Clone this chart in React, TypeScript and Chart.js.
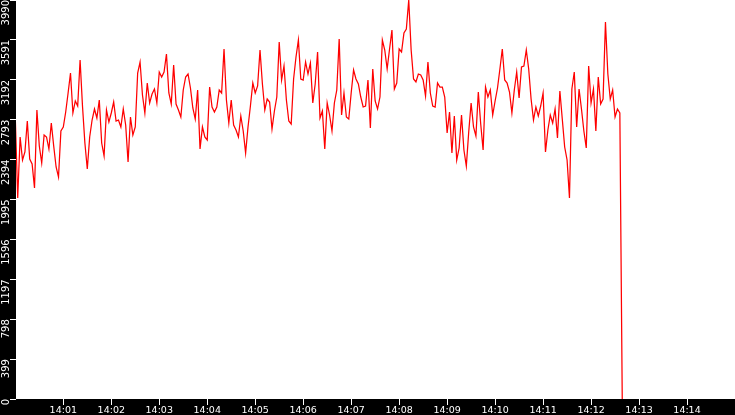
import { useEffect, useRef } from 'react';
import { Chart, registerables } from 'chart.js';

Chart.register(...registerables);

// one reading every 3 seconds, starting 14:00:00
const sampleSeconds = 3;

const minute00 = [2800, 2010, 2620, 2390, 2470, 2780, 2400, 2350, 2110, 2890, 2530, 2360, 2640, 2620, 2500, 2760, 2530, 2320, 2220, 2680];
const minute01 = [2720, 2870, 3060, 3260, 2860, 2980, 2930, 3390, 2930, 2560, 2300, 2620, 2790, 2900, 2810, 2990, 2560, 2430, 2890, 2770];
const minute02 = [2860, 2970, 2780, 2790, 2720, 2900, 2740, 2370, 2820, 2640, 2720, 3260, 3370, 3040, 2860, 3160, 2960, 3050, 3100, 2960];
const minute03 = [3270, 3220, 3270, 3450, 3060, 2950, 3340, 2950, 2890, 2820, 3090, 3220, 3250, 3110, 2910, 2800, 3090, 2500, 2720, 2620];
const minute04 = [2590, 3120, 2920, 2870, 2920, 3090, 3060, 3500, 2990, 2760, 2990, 2740, 2690, 2620, 2830, 2680, 2460, 2720, 2930, 3160];
const minute05 = [3060, 3130, 3490, 3150, 2890, 3000, 2970, 2700, 2880, 3020, 3570, 3190, 3330, 2990, 2780, 2750, 3200, 3420, 3590, 3200];
const minute06 = [3190, 3370, 3250, 3360, 2960, 3150, 3470, 2810, 2880, 2500, 2960, 2840, 2680, 2960, 3090, 3600, 2840, 3060, 2820, 2800];
const minute07 = [3060, 3290, 3200, 3150, 3020, 2920, 2930, 3190, 2710, 3300, 2980, 2900, 3020, 3590, 3490, 3300, 3500, 3690, 3100, 3160];
const minute08 = [3500, 3470, 3660, 3700, 3990, 3490, 3200, 3170, 3250, 3240, 3190, 3030, 3370, 3060, 2930, 2920, 3160, 3120, 3120, 3020];
const minute09 = [2660, 2870, 2460, 2830, 2390, 2510, 2840, 2490, 2330, 2670, 2960, 2720, 2630, 3070, 2750, 2490, 3120, 3020, 3090, 2840];
const minute10 = [2980, 3110, 3300, 3500, 3190, 3160, 3070, 2860, 3090, 3270, 3010, 3320, 3330, 3490, 3300, 3000, 2790, 2920, 2830, 2930];
const minute11 = [3060, 2470, 2690, 2840, 2760, 2900, 2610, 3080, 2800, 2520, 2390, 2010, 3100, 3270, 2720, 3100, 2900, 2680, 2510, 3330];
const minute12 = [2960, 3100, 2680, 3220, 2950, 3000, 3770, 3250, 3000, 3090, 2820, 2900, 2860, 0];

const minutes = [minute00, minute01, minute02, minute03, minute04, minute05, minute06, minute07, minute08, minute09, minute10, minute11, minute12];

const xTickLabels = ['14:01', '14:02', '14:03', '14:04', '14:05', '14:06', '14:07', '14:08', '14:09', '14:10', '14:11', '14:12', '14:13', '14:14'];
const yTickValues = [0, 399, 798, 1197, 1596, 1995, 2394, 2793, 3192, 3591, 3990];

const labelFont = 'DejaVu Sans';

const panelBackground = {
  id: 'panelBackground',
  beforeDraw(chart: Chart) {
    const { ctx, chartArea, width, height } = chart;
    ctx.save();
    ctx.fillStyle = '#000000';
    ctx.fillRect(0, 0, width, height);
    ctx.fillStyle = '#ffffff';
    ctx.fillRect(chartArea.left, chartArea.top, chartArea.right - chartArea.left, chartArea.bottom - chartArea.top);
    ctx.restore();
  }
};

function RateChart() {
  const canvasRef = useRef<HTMLCanvasElement>(null);

  useEffect(() => {
    document.body.style.margin = '0';
    const canvas = canvasRef.current;
    if (!canvas) return;

    const points: { x: number; y: number }[] = [];
    minutes.forEach((values, m) => {
      values.forEach((v, k) => points.push({ x: m * 60 + k * sampleSeconds, y: v }));
    });

    const chart = new Chart(canvas, {
      type: 'line',
      data: {
        datasets: [{
          data: points,
          borderColor: '#ff0000',
          borderWidth: 1.25,
          pointRadius: 0,
          tension: 0,
          fill: false
        }]
      },
      options: {
        animation: false,
        responsive: true,
        maintainAspectRatio: false,
        events: [],
        layout: { padding: 0 },
        plugins: {
          legend: { display: false },
          tooltip: { enabled: false }
        },
        scales: {
          x: {
            type: 'linear',
            min: 0.85,
            max: 900,
            afterBuildTicks: (scale: any) => {
              scale.ticks = xTickLabels.map((_, i) => ({ value: (i + 1) * 60 }));
            },
            afterFit: (scale: any) => {
              scale.height = 16;
              scale.paddingLeft = 0;
              scale.paddingRight = 0;
            },
            ticks: {
              autoSkip: false,
              minRotation: 0,
              maxRotation: 0,
              padding: 0,
              color: '#ffffff',
              font: { family: labelFont, size: 9.5 },
              callback: (_v: any, i: number) => xTickLabels[i]
            },
            grid: { drawOnChartArea: false, drawTicks: true, tickLength: 6, color: '#ffffff' },
            border: { display: false }
          },
          y: {
            type: 'linear',
            min: 0,
            max: 3990,
            afterBuildTicks: (scale: any) => {
              scale.ticks = yTickValues.map((v) => ({ value: v }));
            },
            afterFit: (scale: any) => {
              scale.width = 16;
              scale.paddingTop = 0;
              scale.paddingBottom = 0;
            },
            ticks: {
              minRotation: 90,
              maxRotation: 90,
              padding: 4,
              color: '#ffffff',
              font: { family: labelFont, size: 10 },
              callback: (v: any) => String(v),
              labelOffset: (ctx: any) => (ctx.tick && ctx.tick.value === 0 ? -5 : 0)
            },
            grid: { drawOnChartArea: false, drawTicks: true, tickLength: 6, color: '#ffffff' },
            border: { display: false }
          }
        }
      },
      plugins: [panelBackground]
    });

    return () => {
      chart.destroy();
    };
  }, []);

  return (
    <div style={{ position: 'relative', width: 735, height: 415 }}>
      <canvas ref={canvasRef} />
    </div>
  );
}

export default function App() {
  return <RateChart />;
}
